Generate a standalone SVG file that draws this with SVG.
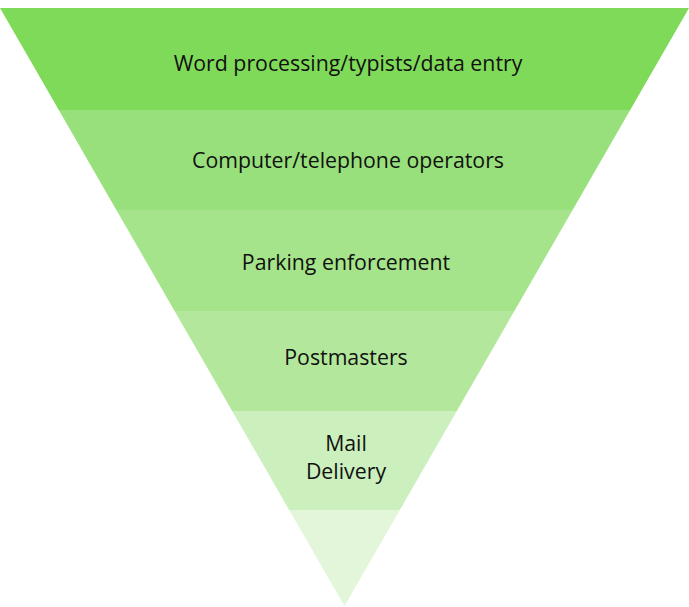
<svg xmlns="http://www.w3.org/2000/svg" width="689" height="607" viewBox="0 0 689 607">
<style>
text{font-family:"Open Sans","Noto Sans",sans-serif;font-size:21.3px;fill:#111111;text-anchor:middle}
</style>
<rect width="689" height="607" fill="#ffffff"/>
<g id="band1"><polygon points="0,8 689,8 630.2,110 58.8,110" fill="#80da5a"/><text x="348" y="71">Word processing/typists/data entry</text></g>
<g id="band2"><polygon points="58.8,110 630.2,110 572.6,210 116.4,210" fill="#98e07b"/><text x="348" y="168">Computer/telephone operators</text></g>
<g id="band3"><polygon points="116.4,210 572.6,210 514.4,311 174.6,311" fill="#a5e48a"/><text x="346" y="270">Parking enforcement</text></g>
<g id="band4"><polygon points="174.6,311 514.4,311 456.8,411 232.2,411" fill="#b3e89c"/><text x="346" y="365">Postmasters</text></g>
<g id="band5"><polygon points="232.2,411 456.8,411 399.8,510 289.2,510" fill="#cbefbd"/><text x="346" y="451">Mail</text><text x="346" y="479">Delivery</text></g>
<g id="band6"><polygon points="289.2,510 399.8,510 344.5,606" fill="#e3f6da"/></g>
<g id="connectors"/>
</svg>
